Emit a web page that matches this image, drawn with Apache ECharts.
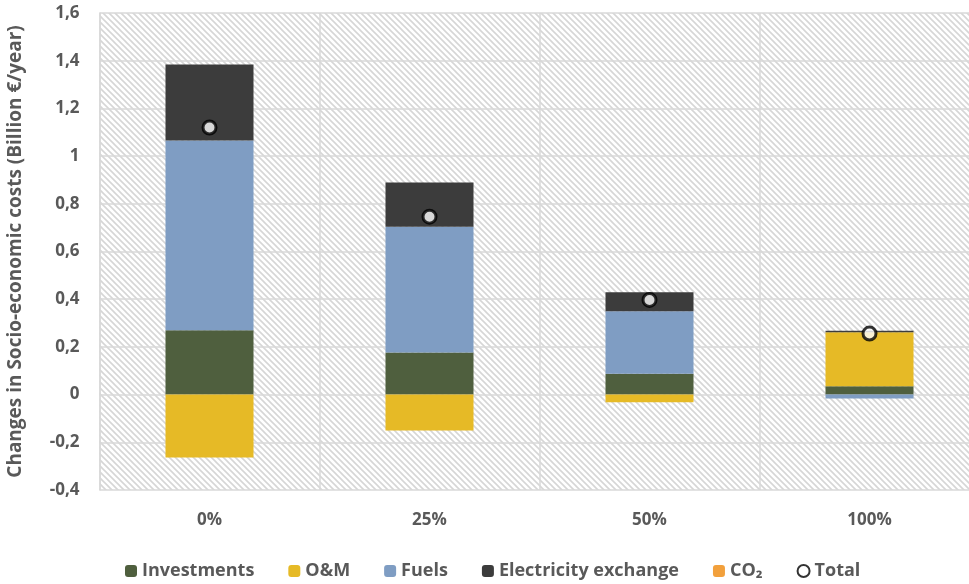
<!DOCTYPE html>
<html><head><meta charset="utf-8">
<script src="https://cdn.jsdelivr.net/npm/echarts@6/dist/echarts.min.js"></script>
<style>html,body{margin:0;padding:0;background:#fff}#c{width:969px;height:584px}</style>
</head><body><div id="c"></div>
<script>
const categories = ['0%', '25%', '50%', '100%'];
const investments = [0.27, 0.176, 0.087, 0.035];
const om = [-0.264, -0.151, -0.032, 0.226];
const fuels = [0.795, 0.528, 0.262, -0.016];
const elec = [0.319, 0.185, 0.08, 0.007];
const co2 = [0, 0, 0, 0];
const total = [1.12, 0.746, 0.397, 0.256];
const yTicks = { min: -0.4, max: 1.6, interval: 0.2 };

const FONT = '"Open Sans", Lato, sans-serif';
const TXT = '#595959';

const S = 6;
const pc = document.createElement('canvas');
pc.width = S; pc.height = S;
const g = pc.getContext('2d');
g.fillStyle = '#ffffff'; g.fillRect(0, 0, S, S);
g.strokeStyle = '#d6d6d6'; g.lineWidth = 1.6;
g.beginPath();
g.moveTo(-1, -1); g.lineTo(S + 1, S + 1);
g.moveTo(-1, S - 1); g.lineTo(1, S + 1);
g.moveTo(S - 1, -1); g.lineTo(S + 1, 1);
g.stroke();

const chart = echarts.init(document.getElementById('c'), null, { renderer: 'canvas' });
function bar(name, data, color) {
  return { name, type: 'bar', stack: 's', data, barWidth: '40%', itemStyle: { color }, emphasis: { disabled: true } };
}
chart.setOption({
  animation: false,
  textStyle: { fontFamily: FONT },
  grid: { left: 99.5, top: 13, right: -10.5, bottom: 94, show: true, borderWidth: 0,
          outerBoundsMode: 'none', containLabel: false,
          backgroundColor: { image: pc, repeat: 'repeat' } },
  legend: {
    left: 120, top: 557, itemWidth: 12, itemHeight: 12, itemGap: 34,
    textStyle: { color: TXT, fontSize: 18, fontWeight: 'bold', fontFamily: FONT },
    data: ['Investments', 'O&M', 'Fuels', 'Electricity exchange', 'CO₂',
           { name: 'Total', icon: 'circle' }]
  },
  xAxis: {
    type: 'category', data: categories,
    axisLine: { show: false }, axisTick: { show: false },
    axisLabel: { color: TXT, fontSize: 17, fontWeight: 'bold', margin: 22, fontFamily: FONT },
    splitLine: { show: true, lineStyle: { color: '#d9d9d9', width: 1.5 } }
  },
  yAxis: {
    type: 'value', min: yTicks.min, max: yTicks.max, interval: yTicks.interval,
    name: 'Changes in Socio-economic costs (Billion €/year)',
    nameLocation: 'middle', nameGap: 74, nameRotate: 90,
    nameTextStyle: { color: TXT, fontSize: 19, fontWeight: 'bold', fontFamily: FONT },
    axisLine: { show: true, lineStyle: { color: '#d9d9d9', width: 1.5 } }, axisTick: { show: false },
    axisLabel: { color: TXT, fontSize: 17, fontWeight: 'bold', margin: 20, fontFamily: FONT,
      formatter: v => String(Math.round(v * 10) / 10).replace('.', ',') },
    splitLine: { show: true, lineStyle: { color: '#d9d9d9', width: 1.5 } }
  },
  series: [
    bar('Investments', investments, '#4f5f3e'),
    bar('O&M', om, '#e6ba26'),
    bar('Fuels', fuels, '#7f9dc3'),
    bar('Electricity exchange', elec, '#3c3c3c'),
    bar('CO₂', co2, '#f2a03c'),
    { name: 'Total', type: 'scatter', data: total, symbol: 'circle', symbolSize: 13,
      itemStyle: { color: '#ffffff', borderColor: '#000000', borderWidth: 3 }, z: 5,
      emphasis: { disabled: true } }
  ]
});
</script></body></html>
